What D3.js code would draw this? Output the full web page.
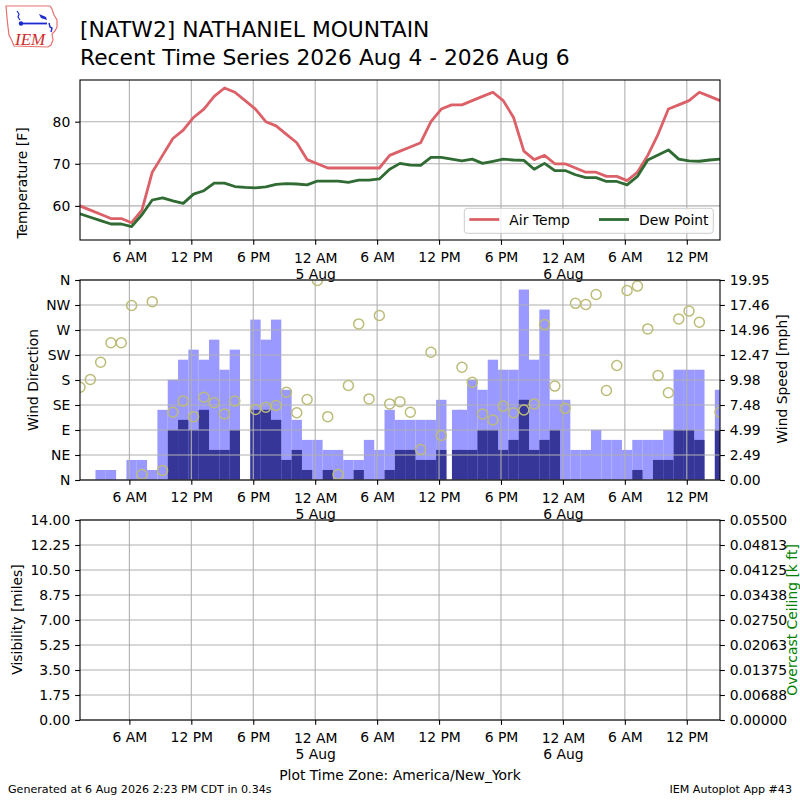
<!DOCTYPE html>
<html><head><meta charset="utf-8">
<script src="https://cdn.jsdelivr.net/npm/d3@7"></script>
<style>
body{margin:0;background:#fff}
svg{display:block}
text{font-family:"DejaVu Sans",sans-serif}
</style>
</head><body>
<svg id="c" width="800" height="800"></svg>
<script>
// ---------------- DATA ----------------
const times = [
"2026-08-04 01:13","2026-08-04 02:13","2026-08-04 03:13","2026-08-04 04:13","2026-08-04 05:13","2026-08-04 06:13",
"2026-08-04 07:13","2026-08-04 08:13","2026-08-04 09:13","2026-08-04 10:13","2026-08-04 11:13","2026-08-04 12:13",
"2026-08-04 13:13","2026-08-04 14:13","2026-08-04 15:13","2026-08-04 16:13","2026-08-04 17:13","2026-08-04 18:13",
"2026-08-04 19:13","2026-08-04 20:13","2026-08-04 21:13","2026-08-04 22:13","2026-08-04 23:13",
"2026-08-05 00:13","2026-08-05 01:13","2026-08-05 02:13","2026-08-05 03:13","2026-08-05 04:13","2026-08-05 05:13",
"2026-08-05 06:13","2026-08-05 07:13","2026-08-05 08:13","2026-08-05 09:13","2026-08-05 10:13","2026-08-05 11:13",
"2026-08-05 12:13","2026-08-05 13:13","2026-08-05 14:13","2026-08-05 15:13","2026-08-05 16:13","2026-08-05 17:13",
"2026-08-05 18:13","2026-08-05 19:13","2026-08-05 20:13","2026-08-05 21:13","2026-08-05 22:13","2026-08-05 23:13",
"2026-08-06 00:13","2026-08-06 01:13","2026-08-06 02:13","2026-08-06 03:13","2026-08-06 04:13","2026-08-06 05:13",
"2026-08-06 06:13","2026-08-06 07:13","2026-08-06 08:13","2026-08-06 09:13","2026-08-06 10:13","2026-08-06 11:13",
"2026-08-06 12:13","2026-08-06 13:13","2026-08-06 14:13","2026-08-06 15:13"
];
const airTemp = [60,59,58,57,57,56,59,68,72,76, 78,81,83,86,88,87,85,83,80,79,
  77,75,71,70,69,69,69,69,69,69, 72,73,74,75,80,83,84,84,85,86,
  87,85,81,73,71,72,70,70,69,68, 68,67,67,66,68,72,77,83,84,85, 87,86,85];
const dewPoint = [58.1,57.3,56.5,55.7,55.7,55.1,57.9,61.4,61.9,61.2,
  60.6,62.8,63.6,65.4,65.4,64.6,64.4,64.3,64.5,65.1,
  65.3,65.2,65.0,65.9,65.9,65.9,65.6,66.1,66.1,66.4,
  68.7,70.1,69.7,69.6,71.5,71.5,71.1,70.7,71.1,70.1,
  70.6,71.1,70.9,70.8,68.7,70.1,68.4,68.4,67.4,66.7,
  66.7,65.8,65.8,65.0,67.0,70.9,72.1,73.3,71.1,70.7, 70.6,70.9,71.1];

const windTimes = times.map((t,i)=> i===36 ? "2026-08-05 13:45" : t);
const windGust = [0,0,1,1,0,2,2,1,7,10, 12,13,12,14,11,13,null,16,14,16,
  9,6,4,4,3,3,2,2,4,3, 7,6,6,6,6,8,7,7,10,9,
  12,11,11,19,12,17,8,8,3,3, 5,4,4,3,4,4,4,5,11,11, 11,null,9];
const windSpeed = [0,0,0,0,0,0,0,0,0,5, 6,5,7,3,3,5,null,7,7,6,
  2,3,1,0,1,0,0,1,0,0, 1,3,3,2,2,3,3,3,3,5,
  5,3,4,8,3,4,5,0,0,0, 0,0,0,0,1,0,2,2,5,5, 4,null,5];
const windDir = [167,181,212,247,247,314,10,321,17,122,
  142,114,149,139,119,142,null,127,131,134,
  158,121,145,359,114,10,170,281,146,296,
  137,141,122,55,230,80,null,203,176,119,
  108,133,121,126,137,280,169,129,318,316,
  334,161,206,341,349,272,188,157,290,304, 284,null,122];

const xDomain = ["2026-08-04 01:13","2026-08-06 15:13"];
const xTickTimes = ["2026-08-04 06:00","2026-08-04 12:00","2026-08-04 18:00","2026-08-05 00:00",
  "2026-08-05 06:00","2026-08-05 12:00","2026-08-05 18:00","2026-08-06 00:00","2026-08-06 06:00","2026-08-06 12:00"];
const xTickLabels = ["6 AM","12 PM","6 PM","12 AM\n5 Aug","6 AM","12 PM","6 PM","12 AM\n6 Aug","6 AM","12 PM"];

const tempTicks = [60,70,80];
const dirTicks = [0,45,90,135,180,225,270,315,360];
const dirLabels = ["N","NE","E","SE","S","SW","W","NW","N"];
const speedTicks = [0,2.49,4.99,7.48,9.98,12.47,14.96,17.46,19.95];
const visTicks = [0,1.75,3.5,5.25,7,8.75,10.5,12.25,14];
const ceilTicks = [0,0.006875,0.01375,0.020625,0.0275,0.034375,0.04125,0.048125,0.055];

const titleLines = ["[NATW2] NATHANIEL MOUNTAIN","Recent Time Series 2026 Aug 4 - 2026 Aug 6"];

// ---------------- DRAW ----------------
const parseT = d3.utcParse("%Y-%m-%d %H:%M");
const svg = d3.select("#c");
const X0 = 80, X1 = 720;
const FS = 13.9, TL = 4.86;
const x = d3.scaleTime().domain(xDomain.map(parseT)).range([X0, X1]);
const xTicks = xTickTimes.map(parseT);
const GRID = "#b0b0b0";

function styleAxis(g){
  g.attr("font-family",null).attr("font-size",null);
  g.select(".domain").remove();
  g.selectAll(".tick line").attr("stroke","#000").attr("stroke-width",1.1);
  g.selectAll(".tick text").attr("fill","#000").style("font-size",FS+"px").style("font-family","DejaVu Sans");
}
function gridX(top,bottom,g){
  g.selectAll(null).data(xTicks).join("line")
    .attr("x1",d=>x(d)).attr("x2",d=>x(d)).attr("y1",top).attr("y2",bottom)
    .attr("stroke",GRID).attr("stroke-width",1.1);
}
function gridY(vals,y,g){
  g.selectAll(null).data(vals).join("line")
    .attr("x1",X0).attr("x2",X1).attr("y1",d=>y(d)).attr("y2",d=>y(d))
    .attr("stroke",GRID).attr("stroke-width",1.1);
}
function xAxis(bottom){
  const g = svg.append("g").attr("transform",`translate(0,${bottom})`)
    .call(d3.axisBottom(x).tickValues(xTicks).tickSize(TL).tickSizeOuter(0).tickFormat((d,i)=>xTickLabels[i]));
  styleAxis(g);
  g.selectAll(".tick text").each(function(d,i){
    const lines = xTickLabels[i].split("\n");
    const t = d3.select(this).text(null).attr("dy",null).attr("y",null);
    lines.forEach((l,j)=>t.append("tspan").attr("x",0)
      .attr("y", 21.5 + (lines.length>1?1.2:0) + j*16.7).text(l));
  });
}
function frame(top,bottom){
  svg.append("rect").attr("x",X0).attr("y",top).attr("width",X1-X0).attr("height",bottom-top)
    .attr("fill","none").attr("stroke","#000").attr("stroke-width",1.1);
}
function clip(id,top,bottom){
  svg.append("clipPath").attr("id",id).append("rect").attr("x",X0).attr("y",top).attr("width",X1-X0).attr("height",bottom-top);
}
function ylabel(txt,cx,cy,color){
  svg.append("text").attr("transform",`translate(${cx},${cy}) rotate(-90)`)
    .attr("text-anchor","middle").attr("dominant-baseline","central")
    .style("font-size",FS+"px").attr("fill",color||"#000").text(txt);
}

// ---- Title & logo ----
svg.append("text").attr("x",80).attr("y",36.5).style("font-size","21.8px").text(titleLines[0]);
svg.append("text").attr("x",80).attr("y",64.5).style("font-size","21.8px").text(titleLines[1]);

const logo = svg.append("g");
logo.append("path").attr("d","M6,6 L50,6 L52,9 L54,15 L57,20 L57,27 L55,31 L52,34 L53,40 L51,45 L48,47 L14,46 L12,41 L9,35 L8,27 L7,18 Z")
  .attr("fill","none").attr("stroke","#e87070").attr("stroke-width",1.2);
logo.append("line").attr("x1",21).attr("x2",47).attr("y1",23.5).attr("y2",23.5).attr("stroke","#1a2acc").attr("stroke-width",1.8);
logo.append("circle").attr("cx",21).attr("cy",23.5).attr("r",2.2).attr("fill","#1a2acc");
logo.append("path").attr("d","M39,14 L46,17 L47,20 L41,18 Z").attr("fill","#1a2acc");
logo.append("path").attr("d","M17,11 L19,14 L18,17 L20,20").attr("fill","none").attr("stroke","#1a2acc").attr("stroke-width",1.2);
logo.append("path").attr("d","M49,23 L50,27 L52,28 L51,32").attr("fill","none").attr("stroke","#1a2acc").attr("stroke-width",1.4);
logo.append("text").attr("x",15).attr("y",44.5).style("font-family","'Liberation Serif',serif")
  .style("font-style","italic").style("font-size","17px").attr("fill","#d22a2a").text("IEM");

// ---- Panel 1: temperature ----
const T0=80, T1=240;
const yT = d3.scaleLinear().domain([51.9,89.9]).range([T1,T0]);
clip("cT",T0,T1);
const g1 = svg.append("g");
gridX(T0,T1,g1); gridY(tempTicks,yT,g1);
const tline = d3.line().defined(d=>d[1]!=null).x(d=>x(parseT(d[0]))).y(d=>yT(d[1]));
const pT = svg.append("g").attr("clip-path","url(#cT)");
pT.append("path").attr("d",tline(times.map((t,i)=>[t,airTemp[i]])))
  .attr("fill","none").attr("stroke","#dc6068").attr("stroke-width",2.8).attr("stroke-linejoin","round");
pT.append("path").attr("d",tline(times.map((t,i)=>[t,dewPoint[i]])))
  .attr("fill","none").attr("stroke","#2f6b32").attr("stroke-width",2.8).attr("stroke-linejoin","round");
frame(T0,T1);
const ayT = svg.append("g").attr("transform",`translate(${X0},0)`)
  .call(d3.axisLeft(yT).tickValues(tempTicks).tickSize(TL).tickPadding(4.86).tickFormat(d3.format("d")));
styleAxis(ayT); ayT.selectAll(".tick text").attr("dy","0.35em");
xAxis(T1);
ylabel("Temperature [F]",22,183);
// legend
const lg = svg.append("g");
lg.append("rect").attr("x",464.3).attr("y",208.3).attr("width",249).attr("height",25).attr("rx",3)
  .attr("fill","#fff").attr("fill-opacity",0.8).attr("stroke","#cccccc").attr("stroke-width",1);
const legendItems = [["Air Temp","#dc6068",469.3],["Dew Point","#2f6b32",599]];
legendItems.forEach(([name,col,lx])=>{
  lg.append("line").attr("x1",lx).attr("x2",lx+30).attr("y1",219.5).attr("y2",219.5).attr("stroke",col).attr("stroke-width",2.8);
  lg.append("text").attr("x",lx+40).attr("y",224.5).style("font-size",FS+"px").text(name);
});

// ---- Panel 2: wind ----
const W0=280, W1=480;
const yDir = d3.scaleLinear().domain([0,360]).range([W1,W0]);
const ySpd = d3.scaleLinear().domain([0,19.95]).range([W1,W0]);
clip("cW",W0,W1);
const half = 30*60*1000;
const wb = svg.append("g").attr("clip-path","url(#cW)");
const wd = windTimes.map((t,i)=>({t:parseT(t),g:windGust[i],s:windSpeed[i],d:windDir[i]}));
wb.selectAll(null).data(wd.filter(d=>d.g!=null && d.g>0)).join("rect")
  .attr("x",d=>x(new Date(+d.t-half))).attr("width",d=>x(new Date(+d.t+half))-x(new Date(+d.t-half)))
  .attr("y",d=>ySpd(d.g)).attr("height",d=>W1-ySpd(d.g)).attr("fill","#9999ff");
wb.selectAll(null).data(wd.filter(d=>d.s!=null && d.s>0)).join("rect")
  .attr("x",d=>x(new Date(+d.t-half))).attr("width",d=>x(new Date(+d.t+half))-x(new Date(+d.t-half)))
  .attr("y",d=>ySpd(d.s)).attr("height",d=>W1-ySpd(d.s)).attr("fill","#363698");
const g2 = svg.append("g");
gridX(W0,W1,g2); gridY(dirTicks,yDir,g2);
const wc = svg.append("g").attr("clip-path","url(#cW)");
wc.selectAll(null).data(wd.filter(d=>d.d!=null)).join("circle")
  .attr("cx",d=>x(d.t)).attr("cy",d=>yDir(d.d)).attr("r",5)
  .attr("fill","none").attr("stroke","#bcbc78").attr("stroke-width",1.5);
frame(W0,W1);
const ayD = svg.append("g").attr("transform",`translate(${X0},0)`)
  .call(d3.axisLeft(yDir).tickValues(dirTicks).tickSize(TL).tickPadding(4.86).tickFormat((d,i)=>dirLabels[i]));
styleAxis(ayD); ayD.selectAll(".tick text").attr("dy","0.35em");
const ayS = svg.append("g").attr("transform",`translate(${X1},0)`)
  .call(d3.axisRight(ySpd).tickValues(speedTicks).tickSize(TL).tickPadding(4.86).tickFormat(d3.format(".2f")));
styleAxis(ayS); ayS.selectAll(".tick text").attr("dy","0.35em");
xAxis(W1);
ylabel("Wind Direction",33,380);
ylabel("Wind Speed [mph]",781.7,379);

// ---- Panel 3: visibility ----
const V0=520, V1=720;
const yVis = d3.scaleLinear().domain([0,14]).range([V1,V0]);
const yCeil = d3.scaleLinear().domain([0,0.055]).range([V1,V0]);
const g3 = svg.append("g");
gridX(V0,V1,g3); gridY(visTicks,yVis,g3);
frame(V0,V1);
const ayV = svg.append("g").attr("transform",`translate(${X0},0)`)
  .call(d3.axisLeft(yVis).tickValues(visTicks).tickSize(TL).tickPadding(4.86).tickFormat(d3.format(".2f")));
styleAxis(ayV); ayV.selectAll(".tick text").attr("dy","0.35em");
const ayC = svg.append("g").attr("transform",`translate(${X1},0)`)
  .call(d3.axisRight(yCeil).tickValues(ceilTicks).tickSize(TL).tickPadding(4.86).tickFormat(d3.format(".5f")));
styleAxis(ayC); ayC.selectAll(".tick text").attr("dy","0.35em");
xAxis(V1);
ylabel("Visibility [miles]",17,619.5);
ylabel("Overcast Ceiling [k ft]",791.5,620,"#008000");

// ---- footer ----
svg.append("text").attr("x",400).attr("y",780).attr("text-anchor","middle").style("font-size",FS+"px")
  .text("Plot Time Zone: America/New_York");
svg.append("text").attr("x",8).attr("y",793).style("font-size","11.1px").text("Generated at 6 Aug 2026 2:23 PM CDT in 0.34s");
svg.append("text").attr("x",792).attr("y",793).attr("text-anchor","end").style("font-size","11.1px").text("IEM Autoplot App #43");
</script>
</body></html>
